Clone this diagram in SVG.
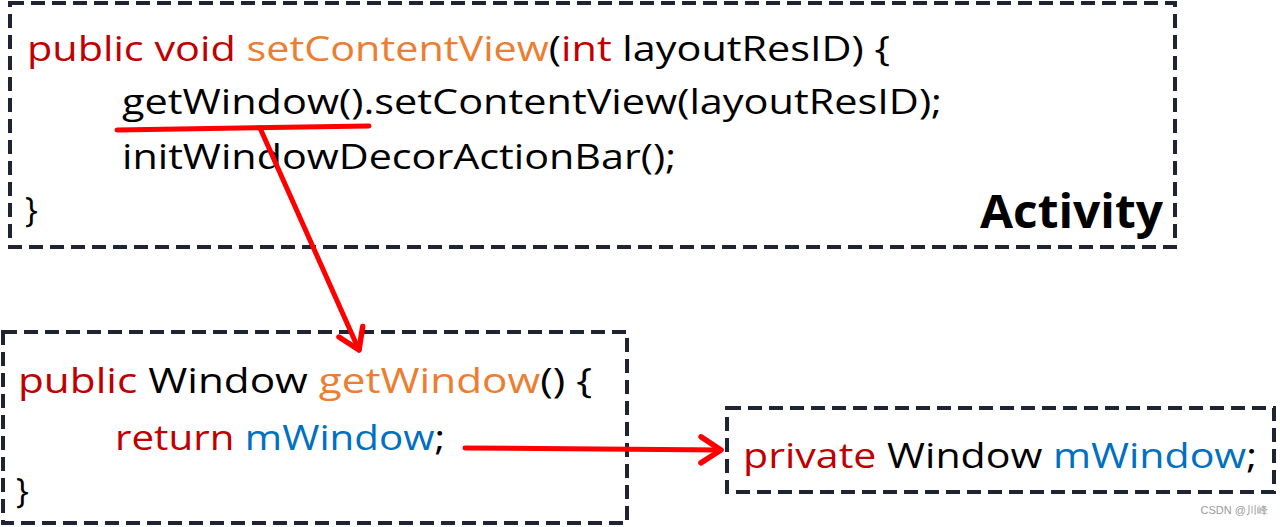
<svg xmlns="http://www.w3.org/2000/svg" width="1280" height="527" viewBox="0 0 1280 527">
<style>
.box{fill:none;stroke:#1e2433;stroke-width:4;stroke-dasharray:14 7}
.code{font-family:"Open Sans","Noto Sans",sans-serif;font-size:34px;fill:#000}
.kw{fill:#c00000}
.fn{fill:#ed7d31}
.var{fill:#0070c0}
.conn{fill:none;stroke:#ff0000;stroke-width:5;stroke-linecap:round}
.wm{font-family:"Liberation Sans",sans-serif;font-size:11px;fill:#999}
</style>
<defs>
<marker id="arr" viewBox="-30 -20 40 40" refX="0" refY="0" markerWidth="40" markerHeight="40" markerUnits="userSpaceOnUse" orient="auto" overflow="visible">
<path d="M-20,-13 L0,0 L-20,13" fill="none" stroke="#ff0000" stroke-width="5.5" stroke-linecap="round" stroke-linejoin="round"/>
</marker>
</defs>
<rect width="1280" height="527" fill="#fff"/>
<g id="activity">
<rect class="box" x="10" y="3" width="1165" height="244"/>
<text class="code" x="27" y="61" textLength="863" lengthAdjust="spacingAndGlyphs"><tspan class="kw">public void </tspan><tspan class="fn">setContentView</tspan>(<tspan class="kw">int</tspan> layoutResID) {</text>
<text class="code" x="122" y="114" textLength="820" lengthAdjust="spacingAndGlyphs">getWindow().setContentView(layoutResID);</text>
<text class="code" x="122" y="169" textLength="554" lengthAdjust="spacingAndGlyphs">initWindowDecorActionBar();</text>
<text class="code" x="25" y="222">}</text>
<text class="code" x="980" y="228" textLength="183" lengthAdjust="spacingAndGlyphs" style="font-size:46px;font-weight:bold">Activity</text>
</g>
<g id="getwindow">
<rect class="box" x="3" y="332" width="624" height="191"/>
<text class="code" x="18" y="393" textLength="574" lengthAdjust="spacingAndGlyphs"><tspan class="kw">public</tspan> Window <tspan class="fn">getWindow</tspan>() {</text>
<text class="code" x="115" y="450" textLength="330" lengthAdjust="spacingAndGlyphs"><tspan class="kw">return</tspan> <tspan class="var">mWindow</tspan>;</text>
<text class="code" x="16" y="503">}</text>
</g>
<g id="field">
<rect class="box" x="727" y="408" width="547" height="84"/>
<text class="code" x="743" y="468" textLength="514" lengthAdjust="spacingAndGlyphs"><tspan class="kw">private</tspan> Window <tspan class="var">mWindow</tspan>;</text>
</g>
<g id="connectors">
<path class="conn" d="M117,130 L369,126"/>
<path class="conn" d="M260,128 L359,350" marker-end="url(#arr)"/>
<path class="conn" d="M465,448 L721,450" marker-end="url(#arr)"/>
</g>
<text class="wm" x="1268" y="514" text-anchor="end">CSDN @川峰</text>
</svg>
